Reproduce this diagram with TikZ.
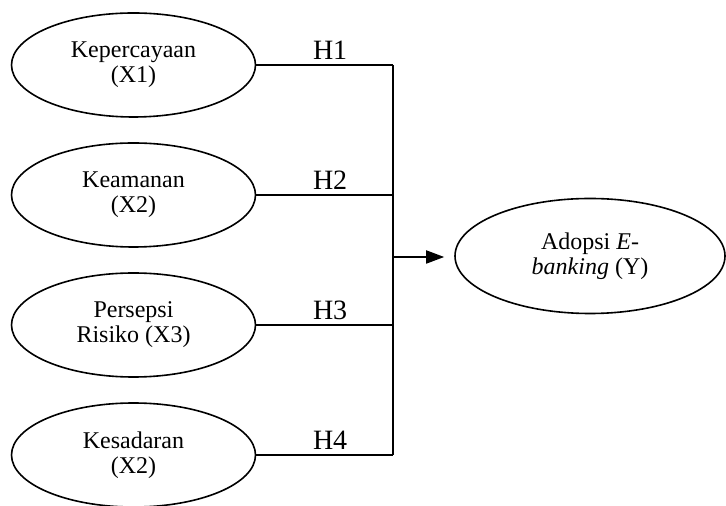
\documentclass[tikz,border=0pt]{standalone}
\usepackage{fontspec}
\setmainfont{Liberation Serif}
\usetikzlibrary{shapes.geometric, arrows.meta, positioning}
\newlength{\ovalwidth}
\setlength{\ovalwidth}{122pt}
\newlength{\ovalheight}
\setlength{\ovalheight}{52pt}
\tikzstyle{construct} = [ellipse, draw, line width=0.8pt, text centered, align=center, inner sep=0pt, minimum width=\ovalwidth, minimum height=\ovalheight, font=\fontsize{12}{12.5}\selectfont]
\tikzstyle{link} = [line width=0.9pt]
\tikzstyle{arrow} = [line width=0.9pt, -{Triangle[length=9pt,width=6.5pt]}]
\tikzstyle{hypo} = [font=\fontsize{14}{16}\selectfont, anchor=base, yshift=2.5pt, inner sep=0pt]

\begin{document}
\begin{tikzpicture}[node distance=65pt]
    \useasboundingbox (0,0) rectangle (363pt,-253pt);

    % Independent variables
    \node (trust) [construct] at (66.75pt,-32.5pt) {Kepercayaan\\(X1)};
    \node (security) [construct, below of=trust] {Keamanan\\(X2)};
    \node (risk) [construct, below of=security] {Persepsi\\Risiko (X3)};
    \node (awareness) [construct, below of=risk] {Kesadaran\\(X2)};

    % Dependent variable
    \node (adoption) [construct, minimum width=135pt, minimum height=57.5pt] at (295pt,-128pt) {Adopsi \textit{E}-\\\textit{banking} (Y)};

    % Junction on the bus
    \coordinate (bus) at (196.5pt,-128.5pt);

    % ==== Lines
    % Hypotheses
    \draw [link] (trust.east) -- node[hypo, pos=0.54] {H1} (trust.east -| bus);
    \draw [link] (security.east) -- node[hypo, pos=0.54] {H2} (security.east -| bus);
    \draw [link] (risk.east) -- node[hypo, pos=0.54] {H3} (risk.east -| bus);
    \draw [link] (awareness.east) -- node[hypo, pos=0.54] {H4} (awareness.east -| bus);

    % Bus and arrow
    \draw [link] (trust.east -| bus) -- (awareness.east -| bus);
    \draw [arrow, shorten >=5pt] (bus) -- (bus -| adoption.west);

\end{tikzpicture}
\end{document}
